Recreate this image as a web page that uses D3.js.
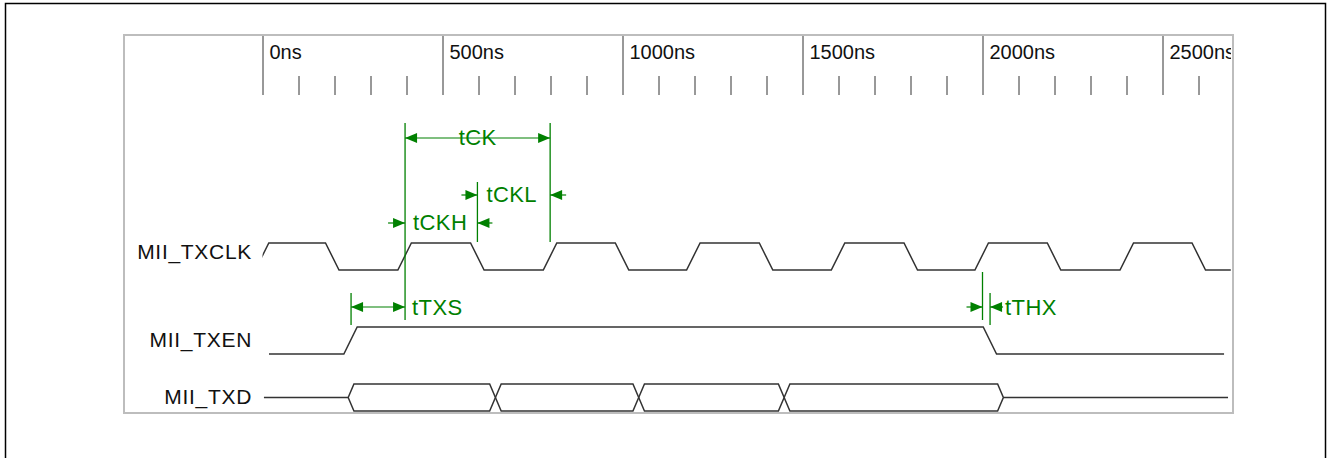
<!DOCTYPE html>
<html>
<head>
<meta charset="utf-8">
<script src="https://cdn.jsdelivr.net/npm/d3@7"></script>
<style>
  body { margin: 0; background: #fff; }
  svg { display: block; font-family: "Liberation Sans", Arial, sans-serif; }
</style>
</head>
<body>
<script>
// time axis (ns)
const majorTicks = [0, 500, 1000, 1500, 2000, 2500];
const tickLabels = ['0ns', '500ns', '1000ns', '1500ns', '2000ns', '2500ns'];
const minorTicks = [100, 200, 300, 400, 600, 700, 800, 900, 1100, 1200, 1300, 1400,
    1600, 1700, 1800, 1900, 2100, 2200, 2300, 2400, 2600];

const signalNames = ['MII_TXCLK', 'MII_TXEN', 'MII_TXD'];

// MII_TXCLK: edge start times, first edge is a rising one
const clkEdges = [-20, 175, 376, 578, 780, 980, 1178, 1380, 1580, 1782, 1979, 2180, 2382, 2582];
const clkSpan = [0, 2690];
// MII_TXEN
const txenEdges = [226, 2002];
const txenSpan = [18, 2671];
// MII_TXD: bus changes (first = becomes valid, last = back to idle)
const txdChanges = [238, 647, 1045, 1449, 2058];
const txdSpan = [4, 2682];

// timing annotations
const dimNames = ['tCK', 'tCKH', 'tCKL', 'tTXS', 'tTHX'];
const dimFrom = [396, 396, 597, 246, 2000];
const dimTo = [799, 597, 799, 396, 2021];

const width = 1329, height = 458;
const green = '#008000';
const wave = '#333';

const svg = d3.create('svg')
    .attr('width', width)
    .attr('height', height);

const x = d3.scaleLinear()
    .domain([0, 2500])
    .range([262.5, 1162.5]);

const yClk = d3.scaleLinear().domain([0, 1]).range([270, 243]);
const yEn = d3.scaleLinear().domain([0, 1]).range([354, 327]);
const yD = d3.scaleLinear().domain([-1, 1]).range([411, 384]);

// frames
svg.append('rect')
    .attr('x', 5.5).attr('y', 3.5)
    .attr('width', 1320).attr('height', 480)
    .attr('fill', 'none').attr('stroke', '#000').attr('stroke-width', 1.5);

svg.append('rect')
    .attr('x', 124).attr('y', 35)
    .attr('width', 1109).attr('height', 378)
    .attr('fill', 'none').attr('stroke', '#bdbdbd').attr('stroke-width', 2);

svg.append('clipPath').attr('id', 'box')
    .append('rect')
    .attr('x', 125).attr('y', 36).attr('width', 1106).attr('height', 376);

// axis
const axis = svg.append('g').attr('clip-path', 'url(#box)');

axis.append('g')
    .attr('transform', 'translate(0,35)')
    .call(d3.axisBottom(x).tickValues(majorTicks).tickSize(60)
        .tickFormat((d, i) => tickLabels[i]))
    .call(g => g.select('.domain').remove())
    .call(g => g.selectAll('.tick line').attr('stroke', '#333'))
    .call(g => g.selectAll('.tick text')
        .attr('x', 6.5).attr('y', 23.5).attr('dy', null)
        .attr('text-anchor', 'start')
        .attr('fill', '#111')
        .attr('font-size', 20)
        .attr('font-family', '"Liberation Sans", Arial, sans-serif'));

axis.append('g')
    .attr('transform', 'translate(0,76)')
    .call(d3.axisBottom(x).tickValues(minorTicks).tickSize(19).tickFormat(''))
    .call(g => g.select('.domain').remove())
    .call(g => g.selectAll('.tick line').attr('stroke', '#333'));

// signal labels
const labelY = [259, 347, 404];
svg.append('g')
    .selectAll('text')
    .data(signalNames)
    .join('text')
    .attr('x', 252)
    .attr('y', (d, i) => labelY[i])
    .attr('text-anchor', 'end')
    .attr('font-size', 21)
    .attr('letter-spacing', 0.7)
    .attr('fill', '#111')
    .text(d => d);

// waveforms
function digital(edges, startLevel, span, dur) {
    const pts = [[span[0], startLevel]];
    let lvl = startLevel;
    edges.forEach(t => {
        pts.push([t, lvl]);
        lvl = 1 - lvl;
        pts.push([t + dur, lvl]);
    });
    pts.push([span[1], lvl]);
    return pts;
}

const waves = svg.append('g')
    .attr('fill', 'none')
    .attr('stroke', wave)
    .attr('stroke-width', 1.5);

svg.append('clipPath').attr('id', 'clk')
    .append('rect')
    .attr('x', x(clkSpan[0])).attr('y', 200)
    .attr('width', x(clkSpan[1]) - x(clkSpan[0])).attr('height', 100);

waves.append('path')
    .attr('clip-path', 'url(#clk)')
    .attr('d', d3.line().x(d => x(d[0])).y(d => yClk(d[1]))(
        digital(clkEdges, 0, [clkEdges[0], clkSpan[1]], 37.5)));

waves.append('path')
    .attr('d', d3.line().x(d => x(d[0])).y(d => yEn(d[1]))(
        digital(txenEdges, 0, txenSpan, 37)));

// bus: idle line, valid cells as hexagons with tips on the change times
const h = 16;
const busLine = d3.line().x(d => x(d[0])).y(d => yD(d[1]));
const first = txdChanges[0], last = txdChanges[txdChanges.length - 1];
waves.append('path')
    .attr('d', busLine([[txdSpan[0], 0], [first, 0]]));
waves.append('path')
    .attr('d', busLine([[last, 0], [txdSpan[1], 0]]));

const cells = d3.pairs(txdChanges);
waves.selectAll('.cell')
    .data(cells)
    .join('path')
    .attr('class', 'cell')
    .attr('d', ([a, b]) => busLine([
        [a, 0], [a + h, 1], [b - h, 1], [b, 0], [b - h, -1], [a + h, -1], [a, 0]
    ]));

// annotations
const ann = svg.append('g').attr('stroke', green).attr('fill', green);

function head(g, tipX, y, dir) {
    // dir = -1 points left, +1 points right
    const L = 12, w = 5;
    g.append('path')
        .attr('stroke', 'none')
        .attr('d', `M${tipX},${y}L${tipX - dir * L},${y - w}L${tipX - dir * L},${y + w}Z`);
}

function vline(t, y0, y1) {
    ann.append('line')
        .attr('x1', x(t)).attr('x2', x(t))
        .attr('y1', y0).attr('y2', y1)
        .attr('stroke-width', 1.3);
}

// extension lines
vline(dimFrom[0], 123, 320);
vline(dimTo[0], 123, 242);
vline(dimTo[1], 182, 242);
vline(dimFrom[3], 293, 325);
vline(dimFrom[4], 272, 320);
vline(dimTo[4], 293, 325);

// inside dimension: arrow heads at the ends pointing outward
function inside(i, y) {
    const a = x(dimFrom[i]), b = x(dimTo[i]);
    ann.append('line').attr('x1', a).attr('x2', b).attr('y1', y).attr('y2', y).attr('stroke-width', 1.2);
    head(ann, a, y, -1);
    head(ann, b, y, 1);
}

// outside dimension: short arrows pointing in from outside
function outside(i, y, lenL, lenR) {
    const a = x(dimFrom[i]), b = x(dimTo[i]);
    ann.append('line').attr('x1', a - lenL).attr('x2', a).attr('y1', y).attr('y2', y).attr('stroke-width', 1.2);
    ann.append('line').attr('x1', b).attr('x2', b + lenR).attr('y1', y).attr('y2', y).attr('stroke-width', 1.2);
    head(ann, a, y, 1);
    head(ann, b, y, -1);
}

inside(0, 138);
outside(1, 223, 17, 15);
outside(2, 195, 16, 16);
inside(3, 307);
outside(4, 307, 16, 13);

const annText = svg.append('g')
    .attr('fill', green)
    .attr('font-size', 22)
    .attr('letter-spacing', 0.4);

// tCK label sits on the arrow with a white gap
const tck = annText.append('text')
    .attr('x', (x(dimFrom[0]) + x(dimTo[0])) / 2)
    .attr('y', 145)
    .attr('text-anchor', 'middle')
    .text(dimNames[0]);
const bb = tck.node().getBBox();
annText.insert('rect', 'text')
    .attr('x', bb.x - 1).attr('y', 133).attr('width', bb.width + 2).attr('height', 10)
    .attr('fill', '#fff');

annText.append('text').attr('x', x(dimFrom[1]) + 8).attr('y', 230).text(dimNames[1]);
annText.append('text').attr('x', x(dimFrom[2]) + 9).attr('y', 202).text(dimNames[2]);
annText.append('text').attr('x', x(dimTo[3]) + 7).attr('y', 314.5).text(dimNames[3]);
annText.append('text').attr('x', x(dimTo[4]) + 15).attr('y', 314.5).text(dimNames[4]);

document.querySelector('body').appendChild(svg.node());
</script>
</body>
</html>
